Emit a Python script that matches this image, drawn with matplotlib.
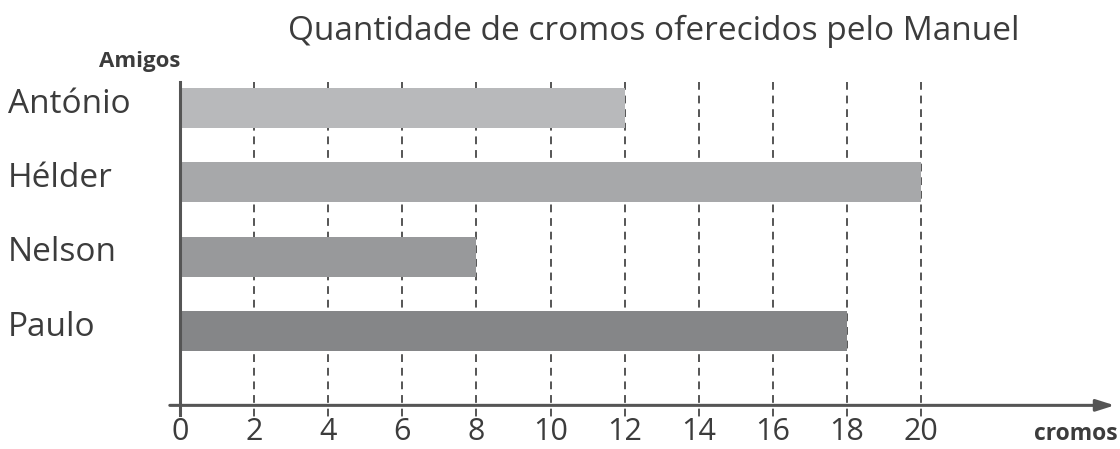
import matplotlib.pyplot as plt

amigos = ['António', 'Hélder', 'Nelson', 'Paulo']
cromos = [12, 20, 8, 18]
bar_colors = ['#b8b9bb', '#a7a8aa', '#98999b', '#858688']
ticks = [0, 2, 4, 6, 8, 10, 12, 14, 16, 18, 20]

plt.rcParams['font.family'] = ['Open Sans', 'DejaVu Sans']
text_color = '#3c3c3c'
line_color = '#555555'

fig = plt.figure(figsize=(11.2, 4.49), dpi=100)
ax = fig.add_axes([0, 0, 1, 1])
ax.set_xlim(-4.858, 25.37)
ax.set_ylim(4.587, -1.453)
ax.axis('off')

pos = list(range(len(amigos)))

# dashed grid lines
for t in ticks[1:]:
    ax.plot([t, t], [-0.35, 4.17], color=line_color, linestyle=(0, (4, 3)),
            linewidth=1.4, zorder=1)

ax.barh(pos, cromos, height=0.54, color=bar_colors, zorder=2)

# axes lines
ax.plot([0, 0], [-0.35, 4.13], color=line_color, linewidth=2.2, zorder=3)
ax.annotate('', xy=(25.3, 4.0), xytext=(-0.35, 4.0),
            arrowprops=dict(arrowstyle='-|>,head_length=1.1,head_width=0.35',
                            color=line_color, linewidth=2.2), zorder=3)

for t in ticks:
    ax.text(t, 4.47, str(t), ha='center', va='baseline', fontsize=22,
            color=text_color)

for p, name in zip(pos, amigos):
    ax.text(-4.65, p - 0.05, name, ha='left', va='center', fontsize=24,
            color=text_color)

ax.text(0.0, -0.62, 'Amigos', ha='right', va='center', fontsize=16,
        fontweight='bold', color=text_color)
ax.text(25.3, 4.38, 'cromos', ha='right', va='center', fontsize=16.5,
        fontweight='bold', color=text_color)

fig.text(0.584, 0.93, 'Quantidade de cromos oferecidos pelo Manuel',
         ha='center', va='center', fontsize=24, color=text_color)

fig.savefig('out.png', dpi=100, facecolor='white')
